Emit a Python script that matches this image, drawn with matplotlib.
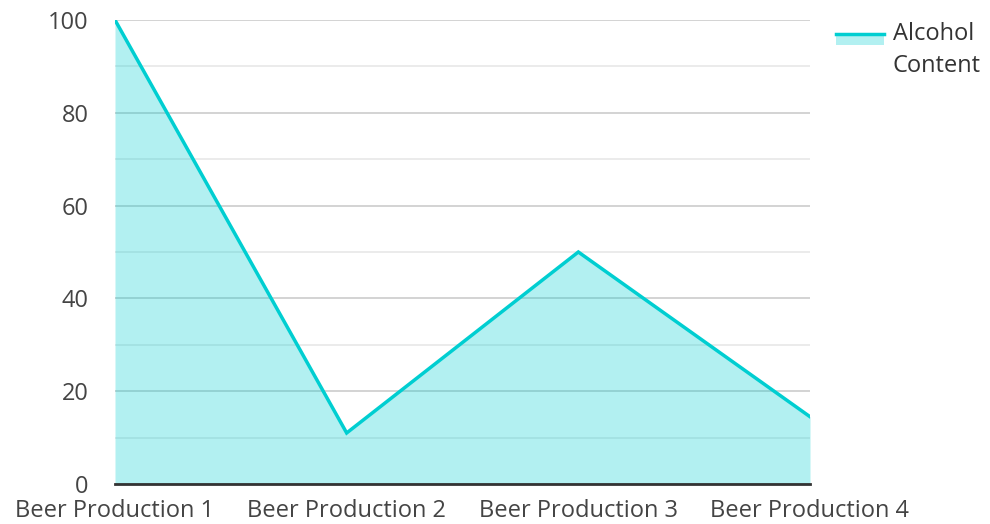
import matplotlib
matplotlib.use('Agg')
import matplotlib.pyplot as plt
from matplotlib.patches import Rectangle
from matplotlib.lines import Line2D

categories = ['Beer Production 1', 'Beer Production 2', 'Beer Production 3', 'Beer Production 4']
alcohol = [100, 11, 50, 14.5]
series_name = 'Alcohol\nContent'

plt.rcParams['font.family'] = ['Open Sans', 'DejaVu Sans']
line_c = '#00CED1'
fs = 17

W, H = 990, 524
fig = plt.figure(figsize=(W / 100, H / 100), dpi=100)
ax = fig.add_axes([115 / W, (H - 484) / H, (810 - 115) / W, (484 - 20) / H])

x = list(range(len(categories)))
ax.fill_between(x, 0, alcohol, color=line_c, alpha=0.3, linewidth=0, zorder=2)
ax.plot(x, alcohol, color=line_c, linewidth=2.5, zorder=3, solid_joinstyle='miter')

ax.set_xlim(0, len(categories) - 1)
ax.set_ylim(0, 100)
ax.set_yticks(range(0, 101, 20))
ax.set_yticks(range(10, 100, 20), minor=True)
ax.set_xticks(x)
ax.set_xticklabels(categories)
ax.grid(True, which='major', axis='y', color='#cccccc', linewidth=1.2, zorder=1)
ax.grid(True, which='minor', axis='y', color='#e8e8e8', linewidth=1.2, zorder=1)
ax.set_axisbelow(True)
for s in ['left', 'right', 'top']:
    ax.spines[s].set_visible(False)
ax.spines['bottom'].set_color('#333333')
ax.spines['bottom'].set_linewidth(2)
ax.spines['bottom'].set_zorder(4)
ax.tick_params(axis='both', which='both', length=0, labelsize=fs, colors='#444444')
ax.tick_params(axis='y', pad=19)
ax.tick_params(axis='x', pad=10.5)

# legend drawn by hand
fig.add_artist(Rectangle((836 / W, 1 - 45 / H), 48 / W, 11 / H, transform=fig.transFigure,
                         facecolor=line_c, alpha=0.3, edgecolor='none'))
fig.add_artist(Line2D([836 / W, 884 / W], [1 - 34 / H, 1 - 34 / H], transform=fig.transFigure,
                      color=line_c, linewidth=2.5))
fig.text(893 / W, 1 - 50 / H, series_name, ha='left', va='center', fontsize=fs, color='#333333',
         linespacing=1.5)

fig.savefig('out.png', dpi=100)
